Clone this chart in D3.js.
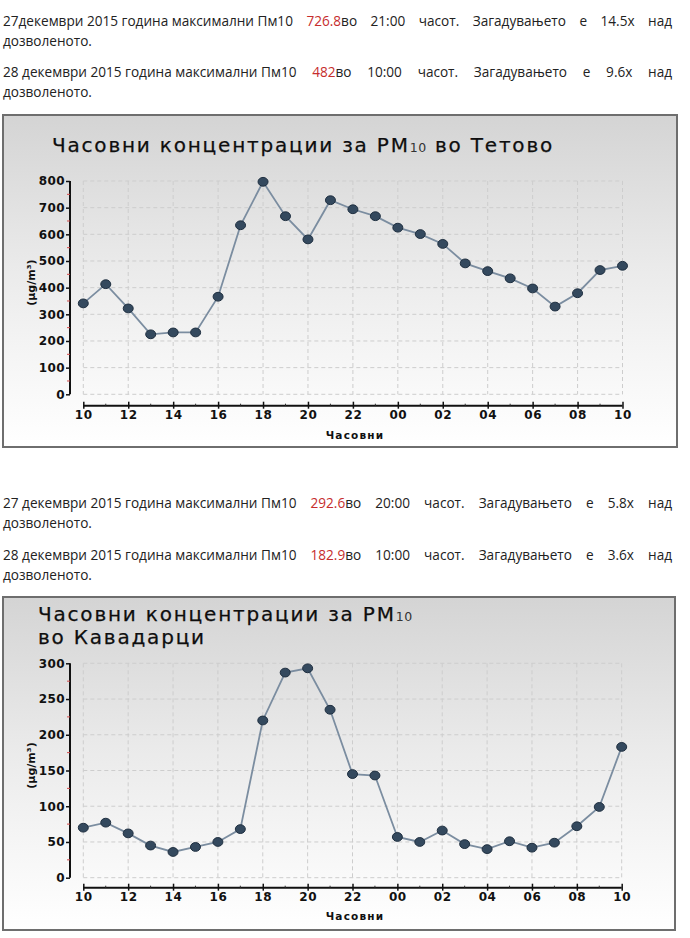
<!DOCTYPE html>
<html>
<head>
<meta charset="utf-8">
<script src="https://cdn.jsdelivr.net/npm/d3@7/dist/d3.min.js"></script>
<style>
  html, body { margin: 0; padding: 0; background: #fff; }
  #wrap { position: relative; width: 690px; height: 938px; overflow: hidden; }
  svg { position: absolute; left: 0; top: 0; }
  .para { position: absolute; left: 3px; width: 669px; font-family: "Open Sans", sans-serif; font-size: 13.6px; color: #222; line-height: 18px; }
  .just { text-align: justify; text-align-last: justify; }
  .seg { display: inline-block; }
  .red { color: #c62d2d; }
</style>
</head>
<body>
<div id="wrap"></div>
<script>
// ---------- DATA ----------
const hourLabels = ["10","11","12","13","14","15","16","17","18","19","20","21","22","23","00","01","02","03","04","05","06","07","08","09","10"];
const tetovoValues = [341, 413, 322, 225, 232, 232, 366, 634, 797, 668, 581, 728, 694, 668, 625, 601, 564, 491, 462, 435, 397, 329, 379, 466, 482];
const kavadarciValues = [70, 77, 62, 45, 36, 43, 50, 68, 220, 287, 293, 235, 145, 143, 57, 50, 66, 47, 40, 51, 42, 49, 72, 99, 183];
const tetovoTicks = [0, 100, 200, 300, 400, 500, 600, 700, 800];
const kavadarciTicks = [0, 50, 100, 150, 200, 250, 300];
const tetovoTitle = ["Часовни концентрации за PM|10| во Тетово"];
const kavadarciTitle = ["Часовни концентрации за PM|10|", "во Кавадарци"];
const xTitle = "Часовни";
const yTitle = "(µg/m³)";
const texts = [
  {lead: "27декември 2015 година максимални Пм10", value: "726.8", rest: ["во", "21:00", "часот.", "Загадувањето", "е", "14.5x", "над"]},
  {lead: "28 декември 2015 година максимални Пм10", value: "482", rest: ["во", "10:00", "часот.", "Загадувањето", "е", "9.6x", "над"]},
  {lead: "27 декември 2015 година максимални Пм10", value: "292.6", rest: ["во", "20:00", "часот.", "Загадувањето", "е", "5.8x", "над"]},
  {lead: "28 декември 2015 година максимални Пм10", value: "182.9", rest: ["во", "10:00", "часот.", "Загадувањето", "е", "3.6x", "над"]}
];
const tailWord = "дозволеното.";

// ---------- PARAGRAPHS ----------
const wrap = d3.select("#wrap");
const paraTops = [11.7, 62.7, 493.7, 546];
texts.forEach((t, i) => {
  const top = paraTops[i];
  const l1 = wrap.append("div").attr("class", "para just").style("top", top + "px");
  l1.append("span").attr("class", "seg").text(t.lead);
  l1.append("span").text(" ");
  const s = l1.append("span").attr("class", "seg");
  s.append("span").attr("class", "red").text(t.value);
  s.append("span").text(t.rest[0]);
  t.rest.slice(1).forEach(w => { l1.append("span").text(" "); l1.append("span").text(w); });
  wrap.append("div").attr("class", "para").style("top", (top + 20) + "px").text(tailWord);
});

// ---------- CHARTS ----------
const svg = wrap.append("svg").attr("width", 690).attr("height", 938);
const defs = svg.append("defs");
const grad = defs.append("linearGradient").attr("id", "bg").attr("x1", 0).attr("y1", 0).attr("x2", 0).attr("y2", 1);
grad.append("stop").attr("offset", "0%").attr("stop-color", "#d4d4d4");
grad.append("stop").attr("offset", "45%").attr("stop-color", "#eaeaea");
grad.append("stop").attr("offset", "75%").attr("stop-color", "#f6f6f6");
grad.append("stop").attr("offset", "100%").attr("stop-color", "#ffffff");

const FONT = "DejaVu Sans, Verdana, sans-serif";

function drawChart(cfg) {
  const g = svg.append("g");
  g.append("rect").attr("x", cfg.box[0]).attr("y", cfg.box[1]).attr("width", cfg.box[2]).attr("height", cfg.box[3])
    .attr("fill", "url(#bg)").attr("stroke", "#6e6e6e").attr("stroke-width", 2);

  const x = d3.scaleLinear().domain([0, hourLabels.length - 1]).range([cfg.x0, cfg.x1]);
  const y = d3.scaleLinear().domain([0, cfg.ticks[cfg.ticks.length - 1]]).range([cfg.yBottom, cfg.yTop]);

  // title
  cfg.title.forEach((line, i) => {
    const parts = line.split("|");
    const t = g.append("text").attr("x", cfg.titleX).attr("y", cfg.titleY + i * 23)
      .attr("font-family", FONT).attr("font-size", 20).attr("letter-spacing", 1.8).attr("fill", "#0e0e0e")
      .attr("stroke", "#0e0e0e").attr("stroke-width", 0.25);
    parts.forEach((p, k) => {
      if (k % 2 === 1) t.append("tspan").attr("font-size", 12.5).attr("letter-spacing", 0.6).attr("fill", "#333").attr("stroke", "none").text(p);
      else t.append("tspan").text(p);
    });
  });

  // grid
  const gridG = g.append("g").attr("stroke", "#cdcdcd").attr("stroke-dasharray", "4,3").attr("stroke-width", 1);
  cfg.ticks.forEach(v => {
    gridG.append("line").attr("x1", cfg.x0).attr("x2", cfg.x1).attr("y1", y(v)).attr("y2", y(v));
  });
  d3.range(0, hourLabels.length, 2).forEach(i => {
    gridG.append("line").attr("x1", x(i)).attr("x2", x(i)).attr("y1", cfg.yTop).attr("y2", cfg.yBottom);
  });

  // y axis
  const yAxis = d3.axisLeft(y).tickValues(cfg.ticks).tickSize(4).tickPadding(1);
  const ya = g.append("g").attr("transform", `translate(${cfg.yAxisX},0)`).call(yAxis);
  ya.select(".domain").attr("stroke", "#111").attr("stroke-width", 2).attr("d", `M0,${cfg.yTop}V${cfg.yBottom}`);
  ya.selectAll(".tick line").attr("stroke", "#111").attr("stroke-width", 1.5);
  ya.selectAll(".tick text").attr("font-family", FONT).attr("font-weight", "bold")
    .attr("font-size", 12).attr("letter-spacing", 0.4).attr("fill", "#111");
  // minor red ticks
  const step = cfg.ticks[1] - cfg.ticks[0];
  cfg.ticks.slice(0, -1).forEach(v => {
    g.append("line").attr("x1", cfg.yAxisX - 3).attr("x2", cfg.yAxisX).attr("y1", y(v + step / 2)).attr("y2", y(v + step / 2))
      .attr("stroke", "#d04a4a").attr("stroke-width", 1);
  });

  // x axis
  const xAxis = d3.axisBottom(x).tickValues(d3.range(0, hourLabels.length, 2)).tickFormat(i => hourLabels[i]).tickSize(3).tickPadding(2);
  const xa = g.append("g").attr("transform", `translate(0,${cfg.xAxisY})`).call(xAxis);
  xa.select(".domain").attr("stroke", "#111").attr("stroke-width", 2).attr("d", `M${cfg.x0},0H${cfg.x1}`);
  xa.selectAll(".tick line").attr("stroke", "#111").attr("stroke-width", 1.5).attr("y1", -4).attr("y2", 3);
  xa.selectAll(".tick text").attr("font-family", FONT).attr("font-weight", "bold")
    .attr("font-size", 12).attr("letter-spacing", 0.6).attr("fill", "#111");
  d3.range(1, hourLabels.length, 2).forEach(i => {
    xa.append("line").attr("x1", x(i)).attr("x2", x(i)).attr("y1", -2).attr("y2", 0).attr("stroke", "#333").attr("stroke-width", 1);
  });

  // axis titles
  g.append("text").attr("x", cfg.xTitleX).attr("y", cfg.xTitleY).attr("text-anchor", "middle")
    .attr("font-family", FONT).attr("font-weight", "bold").attr("font-size", 10.5)
    .attr("letter-spacing", 1.2).attr("fill", "#111").text(xTitle);
  g.append("text").attr("transform", `translate(${cfg.yTitleX},${(cfg.yTop + cfg.yBottom) / 2 - 5}) rotate(-90)`)
    .attr("text-anchor", "middle").attr("font-family", FONT).attr("font-weight", "bold")
    .attr("font-size", 11).attr("fill", "#111").text(yTitle);

  // line + points
  const line = d3.line().x((d, i) => x(i)).y(d => y(d));
  g.append("path").datum(cfg.values).attr("d", line).attr("fill", "none").attr("stroke", "#7b8da0").attr("stroke-width", 1.8);
  g.selectAll("ellipse.pt").data(cfg.values).enter().append("ellipse").attr("class", "pt")
    .attr("cx", (d, i) => x(i)).attr("cy", d => y(d)).attr("rx", 5).attr("ry", 4.4)
    .attr("fill", "#34495e").attr("stroke", "#1f2f40").attr("stroke-width", 1);
}

drawChart({
  box: [3, 115, 674, 332], values: tetovoValues, ticks: tetovoTicks, title: tetovoTitle,
  x0: 83.3, x1: 622.5, yTop: 181, yBottom: 394.3, yAxisX: 70, xAxisY: 405.7,
  titleX: 52, titleY: 152, xTitleX: 355, xTitleY: 439, yTitleX: 35
});
drawChart({
  box: [3, 597, 672, 333], values: kavadarciValues, ticks: kavadarciTicks, title: kavadarciTitle,
  x0: 83.3, x1: 621.7, yTop: 663.3, yBottom: 877.7, yAxisX: 70, xAxisY: 887.7,
  titleX: 38, titleY: 621, xTitleX: 355, xTitleY: 920, yTitleX: 35
});
</script>
</body>
</html>
